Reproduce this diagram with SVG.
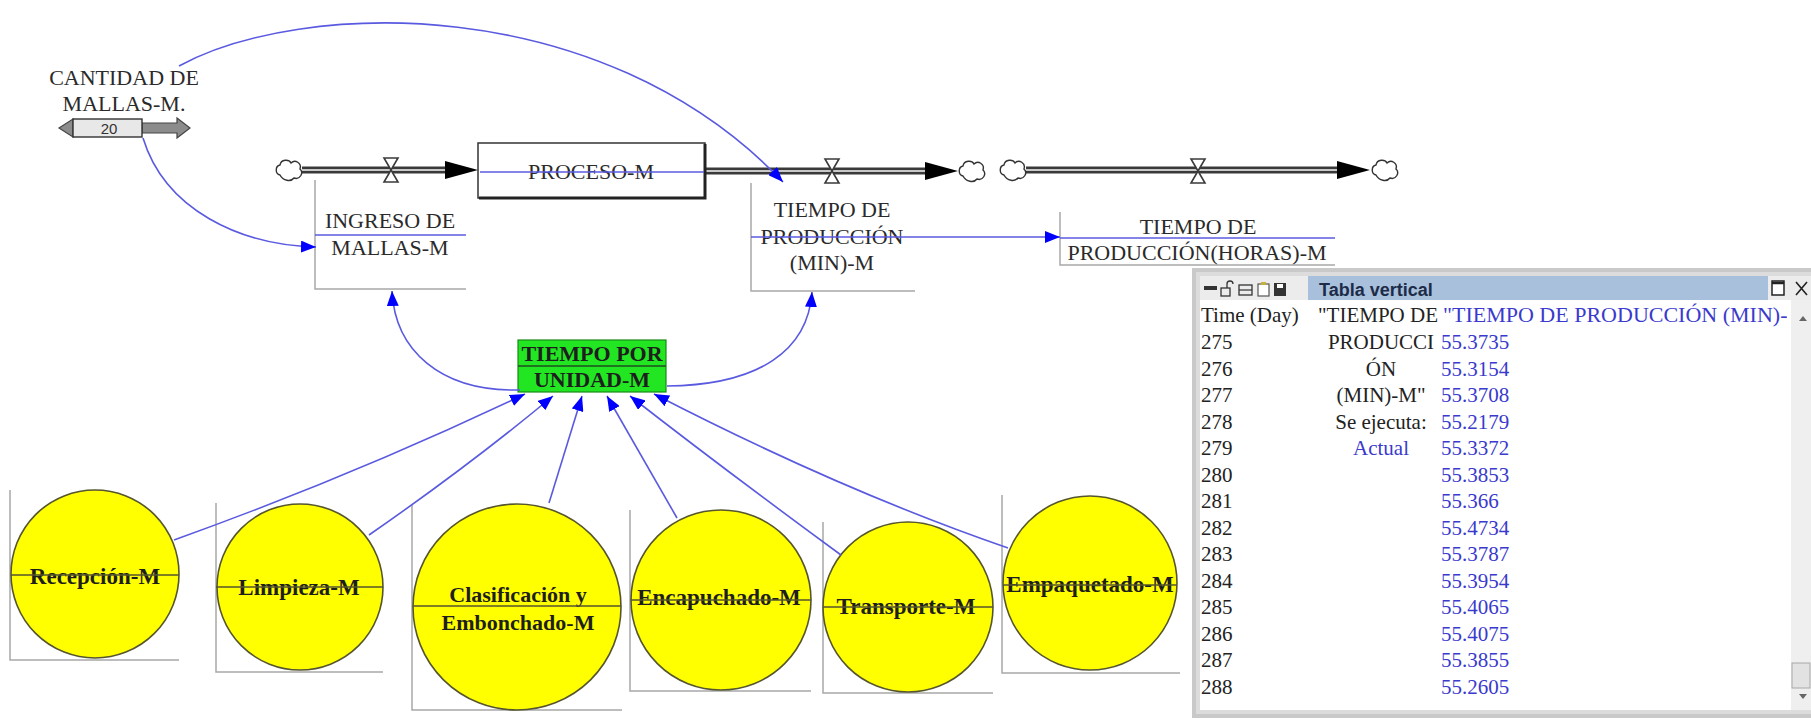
<svg xmlns="http://www.w3.org/2000/svg" xmlns:xlink="http://www.w3.org/1999/xlink" width="1811" height="718" viewBox="0 0 1811 718">
<style>
  .lbl{font-family:"Liberation Serif","Times New Roman",serif;font-size:22px;fill:#2a2a2a;text-anchor:middle}
  .blbl{font-family:"Liberation Serif","Times New Roman",serif;font-size:22px;font-weight:bold;fill:#1e1e1e;text-anchor:middle}
  .clbl{font-family:"Liberation Serif","Times New Roman",serif;font-size:23px;font-weight:bold;fill:#1e1e1e;text-anchor:middle}
  .brk{fill:none;stroke:#a8a8a8;stroke-width:1.5}
  .link{fill:none;stroke:#5a5ae0;stroke-width:1.6}
  .uline{stroke:#5a5ae0;stroke-width:1.6}
  .strike{stroke:#55552e;stroke-width:1.6}
  .circ{fill:#ffff00;stroke:#55552e;stroke-width:1.6}
  .pipeo{stroke:#3a3a3a;stroke-width:7;fill:none}
  .pipei{stroke:#c8c8c8;stroke-width:2;fill:none}
  .valve{fill:#fff;stroke:#3a3a3a;stroke-width:1.6}
  .tt{font-family:"Liberation Serif","Times New Roman",serif;font-size:21px;fill:#222}
  .tv{font-family:"Liberation Serif","Times New Roman",serif;font-size:21px;fill:#3a3acd}
  .tm{font-family:"Liberation Serif","Times New Roman",serif;font-size:21px;fill:#222;text-anchor:middle}
</style>
<defs>
  <marker id="ah" markerUnits="userSpaceOnUse" markerWidth="16" markerHeight="12" refX="15" refY="6" orient="auto">
    <path d="M0,0 L15,6 L0,12 Z" fill="#0000ff"/>
  </marker>
  <path id="cloud" d="M-9,5 C-14,4 -14,-4 -9,-5 C-8,-11 0,-11 2,-7 C6,-11 13,-7 11,-1 C15,3 11,10 5,8 C2,12 -6,11 -9,5 Z" fill="#fff" stroke="#333" stroke-width="1.4"/>
  <path id="valve" d="M-7,-12 L7,-12 L-7,12 L7,12 Z" class="valve"/>
  <path id="flowhead" d="M-33,-9 L0,0 L-33,9 Z" fill="#000"/>
  <clipPath id="tclip"><rect x="1200" y="300" width="587" height="410"/></clipPath>
</defs>
<rect x="0" y="0" width="1811" height="718" fill="#fff"/>

<!-- flows (pipes, valves, clouds) -->
<g id="flows">
  <line x1="302" y1="170" x2="450" y2="170" class="pipeo"/>
  <line x1="302" y1="170" x2="450" y2="170" class="pipei"/>
  <use xlink:href="#flowhead" x="478" y="170"/>
  <use xlink:href="#cloud" x="289" y="170"/>
  <use xlink:href="#valve" x="391" y="170"/>

  <line x1="705" y1="171" x2="930" y2="171" class="pipeo"/>
  <line x1="705" y1="171" x2="930" y2="171" class="pipei"/>
  <use xlink:href="#flowhead" x="958" y="171"/>
  <use xlink:href="#cloud" x="972" y="171"/>
  <use xlink:href="#valve" x="832" y="171"/>

  <line x1="1026" y1="170" x2="1342" y2="170" class="pipeo"/>
  <line x1="1026" y1="170" x2="1342" y2="170" class="pipei"/>
  <use xlink:href="#flowhead" x="1370" y="170"/>
  <use xlink:href="#cloud" x="1013" y="170"/>
  <use xlink:href="#cloud" x="1385" y="170"/>
  <use xlink:href="#valve" x="1198" y="171"/>
</g>

<!-- stock -->
<g id="node-proceso">
  <rect x="478" y="143" width="227" height="55" fill="#fff" stroke="#333" stroke-width="1.5"/>
  <path d="M479,198 H705 V144" fill="none" stroke="#222" stroke-width="3"/>
  <text x="591" y="179" class="lbl">PROCESO-M</text>
  <line x1="480" y1="172" x2="704" y2="172" class="uline"/>
</g>

<!-- constant with slider -->
<g id="node-cantidad">
  <text x="124" y="85" class="lbl">CANTIDAD DE</text>
  <text x="124" y="111" class="lbl">MALLAS-M.</text>
  <polygon points="59,128 73,119 73,137" fill="#8c8c8c" stroke="#444" stroke-width="1.2"/>
  <polygon points="142,123 177,123 177,118 190,128 177,138 177,133 142,133" fill="#8c8c8c" stroke="#444" stroke-width="1.2"/>
  <rect x="73" y="119" width="69" height="18" fill="#e8e8e8" stroke="#333" stroke-width="1.4"/>
  <text x="109" y="133.5" font-family="Liberation Sans, Arial, sans-serif" font-size="15" fill="#333" text-anchor="middle">20</text>
</g>

<g id="node-ingreso">
  <path d="M315,180 V289 H466" class="brk"/>
  <text x="390" y="228" class="lbl">INGRESO DE</text>
  <text x="390" y="255" class="lbl">MALLAS-M</text>
  <line x1="315" y1="235" x2="466" y2="235" class="uline"/>
</g>

<g id="node-tiempo-prod">
  <path d="M751,183 V291 H915" class="brk"/>
  <text x="832" y="217" class="lbl">TIEMPO DE</text>
  <text x="832" y="244" class="lbl">PRODUCCIÓN</text>
  <text x="832" y="270" class="lbl">(MIN)-M</text>
</g>

<g id="node-horas">
  <path d="M1060,212 V265 H1335" class="brk"/>
  <text x="1198" y="234" class="lbl">TIEMPO DE</text>
  <text x="1197" y="260" class="lbl">PRODUCCIÓN(HORAS)-M</text>
  <line x1="1060" y1="238" x2="1335" y2="238" class="uline"/>
</g>

<g id="node-tiempo-unidad">
  <rect x="518" y="340" width="148" height="52" fill="#22e622" stroke="#1a8a1a" stroke-width="1.2"/>
  <text x="592" y="361" class="blbl">TIEMPO POR</text>
  <line x1="518" y1="366" x2="666" y2="366" stroke="#1f4f1f" stroke-width="1.5"/>
  <text x="592" y="387" class="blbl">UNIDAD-M</text>
</g>

<g id="node-recepcion">
  <path d="M10,490 V660 H179" class="brk"/>
  <circle cx="95" cy="574" r="84" class="circ"/>
  <text x="95" y="584" class="clbl">Recepción-M</text>
  <line x1="11" y1="575" x2="179" y2="575" class="strike"/>
</g>
<g id="node-limpieza">
  <path d="M216,503 V672 H383" class="brk"/>
  <circle cx="300" cy="587" r="83" class="circ"/>
  <text x="299" y="595" class="clbl">Limpieza-M</text>
  <line x1="216" y1="587" x2="383" y2="587" class="strike"/>
</g>
<g id="node-clasificacion">
  <path d="M412,505 V710 H622" class="brk"/>
  <ellipse cx="517" cy="607" rx="104" ry="103" class="circ"/>
  <text x="518" y="602" class="blbl">Clasificación y</text>
  <line x1="413" y1="606" x2="621" y2="606" class="strike"/>
  <text x="518" y="630" class="blbl">Embonchado-M</text>
</g>
<g id="node-encapuchado">
  <path d="M630,510 V691 H811" class="brk"/>
  <circle cx="721" cy="600" r="90" class="circ"/>
  <text x="719" y="605" class="clbl">Encapuchado-M</text>
  <line x1="631" y1="600" x2="811" y2="600" class="strike"/>
</g>
<g id="node-transporte">
  <path d="M823,522 V693 H993" class="brk"/>
  <circle cx="908" cy="607" r="85" class="circ"/>
  <text x="906" y="614" class="clbl">Transporte-M</text>
  <line x1="823" y1="607" x2="993" y2="607" class="strike"/>
</g>
<g id="node-empaquetado">
  <path d="M1002,495 V673 H1180" class="brk"/>
  <circle cx="1090" cy="583" r="87" class="circ"/>
  <text x="1090" y="592" class="clbl">Empaquetado-M</text>
  <line x1="1003" y1="585" x2="1177" y2="585" class="strike"/>
</g>

<!-- connectors -->
<g id="connectors">
  <path d="M179,66 C300,0 600,-10 783,182" class="link" marker-end="url(#ah)"/>
  <path d="M143,138 C165,210 240,245 316,247" class="link" marker-end="url(#ah)"/>
  <path d="M751,237 L1060,237" class="link" marker-end="url(#ah)"/>
  <path d="M520,390 C440,392 395,350 392,291" class="link" marker-end="url(#ah)"/>
  <path d="M667,386 C760,385 808,350 812,292" class="link" marker-end="url(#ah)"/>
  <path d="M174,540 Q355,475 525,394" class="link" marker-end="url(#ah)"/>
  <path d="M369,535 Q470,465 553,396" class="link" marker-end="url(#ah)"/>
  <path d="M549,503 L582,396" class="link" marker-end="url(#ah)"/>
  <path d="M677,518 L607,396" class="link" marker-end="url(#ah)"/>
  <path d="M841,555 Q725,470 630,396" class="link" marker-end="url(#ah)"/>
  <path d="M1008,548 Q840,490 654,394" class="link" marker-end="url(#ah)"/>
</g>

<!-- output table window -->
<g id="table">
  <rect x="1192" y="268" width="619" height="450" fill="#c9c9c9"/>
  <rect x="1196" y="272" width="615" height="442" fill="#dcdcdc"/>
  <rect x="1200" y="300" width="611" height="410" fill="#fff"/>
  <rect x="1200" y="276" width="108" height="24" fill="#ececec"/>
  <rect x="1308" y="276" width="460" height="24" fill="#a9c0dc"/>
  <rect x="1768" y="276" width="43" height="24" fill="#ececec"/>
  <!-- toolbar icons -->
  <rect x="1204" y="286" width="13" height="4" fill="#333"/>
  <rect x="1221" y="288" width="9" height="8" fill="none" stroke="#333" stroke-width="1.3"/>
  <path d="M1227,288 V284 A3,3 0 0 1 1233,284" fill="none" stroke="#333" stroke-width="1.3"/>
  <rect x="1239" y="285" width="13" height="10" fill="none" stroke="#333" stroke-width="1.3"/>
  <line x1="1239" y1="290" x2="1252" y2="290" stroke="#333" stroke-width="1.2"/>
  <rect x="1258" y="284" width="11" height="12" fill="#fff" stroke="#555" stroke-width="1.2"/>
  <rect x="1261" y="282" width="5" height="3" fill="#c8b040"/>
  <rect x="1274" y="283" width="12" height="13" fill="#333"/>
  <rect x="1277" y="284" width="6" height="4" fill="#fff"/>
  <text x="1319" y="296" font-family="Liberation Sans, Arial, sans-serif" font-size="18" font-weight="bold" fill="#1c2c48">Tabla vertical</text>
  <rect x="1772" y="281" width="12" height="14" fill="#fff" stroke="#222" stroke-width="1.5"/>
  <line x1="1772" y1="283" x2="1784" y2="283" stroke="#222" stroke-width="2.5"/>
  <path d="M1796,282 L1807,295 M1807,282 L1796,295" stroke="#222" stroke-width="1.6"/>
  <!-- scrollbar -->
  <rect x="1791" y="300" width="20" height="410" fill="#efefef"/>
  <path d="M1799,321 L1803,316 L1807,321 Z" fill="#666"/>
  <path d="M1799,694 L1803,699 L1807,694 Z" fill="#666"/>
  <rect x="1792" y="663" width="18" height="25" fill="#e2e2e2" stroke="#a8a8a8"/>

  <g clip-path="url(#tclip)">
    <text x="1201" y="322" class="tt">Time (Day)</text>
    <text x="1378" y="322" class="tm">"TIEMPO DE</text>
    <text x="1443" y="322" class="tv" style="font-size:22px">"TIEMPO DE PRODUCCIÓN (MIN)-</text>
    <text x="1381" y="349" class="tm">PRODUCCI</text>
    <text x="1381" y="375.5" class="tm">ÓN</text>
    <text x="1381" y="402" class="tm">(MIN)-M"</text>
    <text x="1381" y="428.5" class="tm">Se ejecuta:</text>
    <text x="1381" y="455" class="tm" style="fill:#3a3acd">Actual</text>

    <text x="1201" y="349" class="tt">275</text>
    <text x="1201" y="375.5" class="tt">276</text>
    <text x="1201" y="402" class="tt">277</text>
    <text x="1201" y="428.5" class="tt">278</text>
    <text x="1201" y="455" class="tt">279</text>
    <text x="1201" y="481.5" class="tt">280</text>
    <text x="1201" y="508" class="tt">281</text>
    <text x="1201" y="534.5" class="tt">282</text>
    <text x="1201" y="561" class="tt">283</text>
    <text x="1201" y="587.5" class="tt">284</text>
    <text x="1201" y="614" class="tt">285</text>
    <text x="1201" y="640.5" class="tt">286</text>
    <text x="1201" y="667" class="tt">287</text>
    <text x="1201" y="693.5" class="tt">288</text>

    <text x="1441" y="349" class="tv">55.3735</text>
    <text x="1441" y="375.5" class="tv">55.3154</text>
    <text x="1441" y="402" class="tv">55.3708</text>
    <text x="1441" y="428.5" class="tv">55.2179</text>
    <text x="1441" y="455" class="tv">55.3372</text>
    <text x="1441" y="481.5" class="tv">55.3853</text>
    <text x="1441" y="508" class="tv">55.366</text>
    <text x="1441" y="534.5" class="tv">55.4734</text>
    <text x="1441" y="561" class="tv">55.3787</text>
    <text x="1441" y="587.5" class="tv">55.3954</text>
    <text x="1441" y="614" class="tv">55.4065</text>
    <text x="1441" y="640.5" class="tv">55.4075</text>
    <text x="1441" y="667" class="tv">55.3855</text>
    <text x="1441" y="693.5" class="tv">55.2605</text>
  </g>
</g>
</svg>
